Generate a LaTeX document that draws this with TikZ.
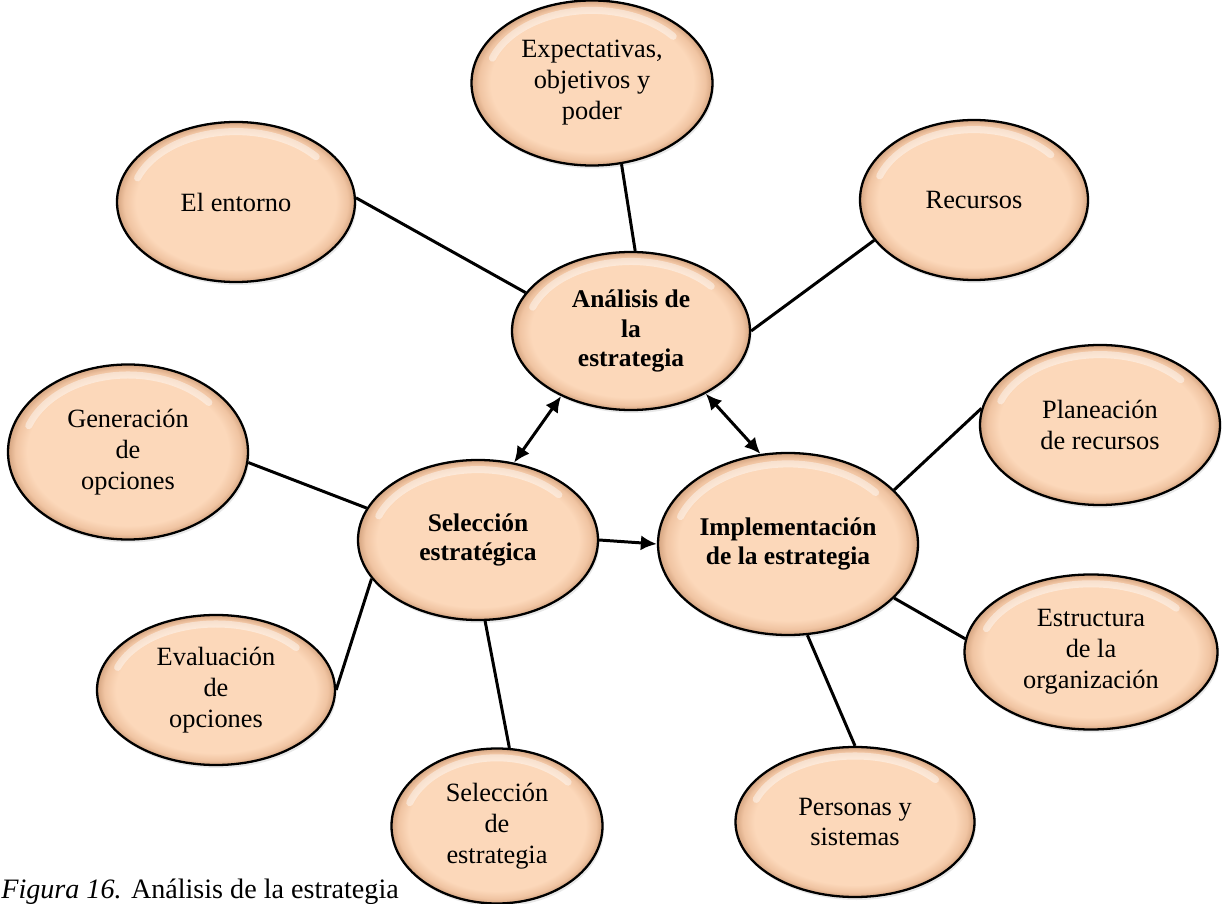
\documentclass[tikz,border=0pt]{standalone}
\usepackage{fontspec}
\setmainfont{Liberation Serif}
\usepackage{xcolor}
\usepackage{tikz}
\usetikzlibrary{shapes.geometric, arrows.meta, calc, shadows}
\definecolor{peachFill}{RGB}{252, 216, 186}
\definecolor{peachRim}{RGB}{240, 196, 162}
\definecolor{peachEdge}{RGB}{212, 164, 128}
\pgfdeclareradialshading{peachbevel}{\pgfpoint{0bp}{0bp}}{%
  color(0bp)=(peachFill); color(21bp)=(peachFill); color(23.5bp)=(peachRim);
  color(25bp)=(peachEdge); color(30bp)=(peachEdge)}
\newcommand{\bubblefont}{\fontsize{15}{17.6}\selectfont}
\newcommand{\corefont}{\fontsize{14.5}{17}\selectfont\bfseries}

\begin{document}
\begin{tikzpicture}[
            >={Latex[length=3.2mm, width=3mm]}, % filled arrow tips
            % Bubble styles
            bubble/.style={
                ellipse,
                draw=black,
                line width=1.3pt,
                shade,
                shading=peachbevel,
                minimum width=4.8cm,
                minimum height=3.2cm,
                inner sep=0pt,
                align=center,
                font=\bubblefont,
                drop shadow={opacity=.18, shadow xshift=.03cm, shadow yshift=-.06cm},
                path picture={
                    \path let \p1=($(path picture bounding box.north east)-(path picture bounding box.center)$) in
                        [draw=white, draw opacity=.45, line width=4pt, line cap=round]
                        ($(path picture bounding box.center)+(160:{0.88*\x1} and {0.88*\y1})$)
                        arc[start angle=160, end angle=40, x radius=0.88*\x1, y radius=0.88*\y1];
                }
            },
            core/.style={
                bubble,
                font=\corefont
            },
            link/.style={
                draw,
                line width=1.7pt
            },
            flow/.style={
                link,
                ->
            },
            twoway/.style={
                link,
                <->
            }
        ]
        \useasboundingbox (0,0) rectangle (24.5,18.06);

        % --- Core nodes ---
        \node [core, minimum width=4.76cm, minimum height=3.16cm] (analisis) at (12.62,11.44) {Análisis de\\la\\estrategia};
        \node [core] (seleccion) at (9.56,7.26) {Selección\\estratégica};
        \node [core, minimum width=5.2cm, minimum height=3.64cm] (implem) at (15.76,7.18) {Implementación\\de la estrategia};

        % --- Outer nodes ---
        \node [bubble, minimum width=4.82cm, minimum height=3.3cm] (expect) at (11.84,16.4) {Expectativas,\\objetivos y\\poder};
        \node [bubble, minimum width=4.76cm] (entorno) at (4.72,14.02) {El entorno};
        \node [bubble, minimum width=4.56cm] (recursos) at (19.48,14.06) {Recursos};
        \node [bubble] (planea) at (22.0,9.56) {Planeación\\de recursos};
        \node [bubble, minimum height=3.5cm] (genera) at (2.56,9.02) {Generación\\de\\opciones};
        \node [bubble, minimum width=4.76cm, minimum height=3.0cm] (evalua) at (4.32,4.26) {Evaluación\\de\\opciones};
        \node [bubble, minimum width=4.22cm, minimum height=3.1cm] (selest) at (9.94,1.54) {Selección\\de\\estrategia};
        \node [bubble, minimum width=4.78cm, minimum height=3.0cm] (personas) at (17.1,1.62) {Personas y\\sistemas};
        \node [bubble, minimum width=5.06cm, minimum height=3.1cm] (estruct) at (21.82,5.02) {Estructura\\de la\\organización};

        % --- Edges ---
        \path [link] (entorno.2) -- (analisis.160);
        \path [link] (expect.290) -- (analisis.87);
        \path [link] (recursos.202) -- (analisis.0);
        \path [twoway] (analisis.223) -- (seleccion.65);
        \path [twoway] (analisis.320) -- (implem.107);
        \path [flow] (seleccion.0) -- (implem.180);
        \path [link] (genera.-5) -- (seleccion.164);
        \path [link] (evalua.0) -- (seleccion.200);
        \path [link] (seleccion.275) -- (selest.81);
        \path [link] (implem.27) -- (planea.172);
        \path [link] (implem.333) -- (estruct.174);
        \path [link] (implem.282) -- (personas.90);

        % --- Caption ---
        \node [anchor=base west, inner sep=0pt, font=\fontsize{16}{19}\selectfont] (caption) at (0.02,0.1) {\textit{Figura 16.} Análisis de la estrategia};

        \end{tikzpicture}
\end{document}
